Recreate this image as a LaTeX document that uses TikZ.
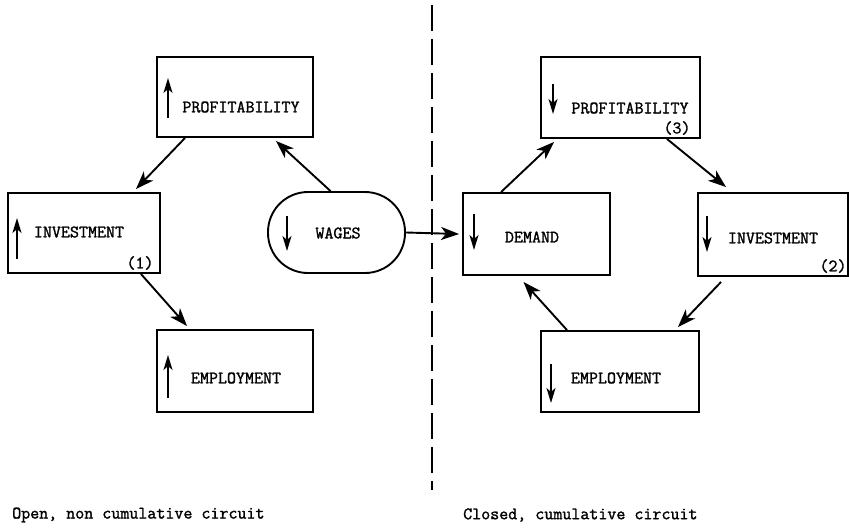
\documentclass[tikz,border=0pt]{standalone}
\usepackage{fontspec}
\newfontfamily\twfont[FakeBold=1.5]{Latin Modern Mono}
\usetikzlibrary{arrows.meta,calc}
\tikzset{
  box/.style={draw, line width=1.9pt, rectangle, inner sep=0pt},
  stadium/.style={draw, line width=1.9pt, rectangle, rounded corners=40pt, inner sep=0pt},
  lbl/.style={font=\twfont\fontsize{17.5}{20}\selectfont, inner sep=0pt},
  conn/.style={line width=1.9pt, -{Stealth[length=18pt,width=13pt,inset=5pt]}},
  updown/.style={line width=1.7pt, -{Stealth[length=15pt,width=9pt,inset=4pt]}},
  sep/.style={line width=2.4pt, dash pattern=on 26pt off 8pt}
}
\begin{document}
\begin{tikzpicture}[x=1pt,y=-1pt]
\useasboundingbox (0,0) rectangle (849,528);
% left circuit
\node[box, minimum width=156pt, minimum height=80pt] (lp) at (235,97) {};
\node[box, minimum width=152pt, minimum height=80pt] (li) at (84,233) {};
\node[box, minimum width=156pt, minimum height=82pt] (le) at (235,371) {};
\node[stadium, minimum width=137pt, minimum height=81pt] (wg) at (336.5,232.5) {};
% right circuit
\node[box, minimum width=159pt, minimum height=81pt] (rp) at (620.5,97.5) {};
\node[box, minimum width=147pt, minimum height=82pt] (rd) at (536.5,234) {};
\node[box, minimum width=150pt, minimum height=83pt] (ri) at (773,234.5) {};
\node[box, minimum width=158pt, minimum height=81pt] (re) at (620,371.5) {};
% texts
\node[lbl] (tlp) at (241,107) {PROFITABILITY};
\node[lbl] (tli) at (79,232) {INVESTMENT};
\node[lbl] (n1) at (140,263) {(1)};
\node[lbl] (tle) at (236,378) {EMPLOYMENT};
\node[lbl] (twg) at (338,233) {WAGES};
\node[lbl] (trp) at (630,108) {PROFITABILITY};
\node[lbl] (n3) at (677,128) {(3)};
\node[lbl] (trd) at (532,237) {DEMAND};
\node[lbl] (tri) at (773,238) {INVESTMENT};
\node[lbl] (n2) at (833,266) {(2)};
\node[lbl] (tre) at (616,378) {EMPLOYMENT};
\node[lbl, anchor=west] (capl) at (12,515) {Open, non cumulative circuit};
\node[lbl, anchor=west] (capr) at (463,515) {Closed, cumulative circuit};
% up/down arrows inside boxes
\draw[updown] (168,118) -- (168,78);
\draw[updown] (17,259) -- (17,218);
\draw[updown] (168,398) -- (168,355);
\draw[updown] (287,216) -- (287,251);
\draw[updown] (553,84) -- (553,114);
\draw[updown] (474,214) -- (474,250);
\draw[updown] (707,216) -- (707,252);
\draw[updown] (551,364) -- (551,403);
% separator
\coordinate (st) at (432,5);
\coordinate (sb) at (432,490);
\draw[sep] (st) -- (sb);
% connectors
\draw[conn] ([xshift=29pt]lp.south west) -- ([xshift=-25pt,yshift=3pt]li.north east);
\draw[conn] ([xshift=-6pt]wg.north) -- ([xshift=-38pt,yshift=-3pt]lp.south east);
\draw[conn] ([xshift=-20pt]li.south east) -- ([xshift=31pt,yshift=3pt]le.north west);
\draw[conn] (wg.east) -- ([xshift=-3pt]rd.west);
\draw[conn] ([xshift=39pt]rd.north west) -- ([xshift=14pt,yshift=-3pt]rp.south west);
\draw[conn] ([xshift=-34pt]rp.south east) -- ([xshift=29pt,yshift=5pt]ri.north west);
\draw[conn] ([xshift=24pt,yshift=-5pt]ri.south west) -- ([xshift=-22pt,yshift=3pt]re.north east);
\draw[conn] ([xshift=-53pt]re.north) -- ([xshift=-13pt,yshift=-6pt]rd.south);
\end{tikzpicture}
\end{document}
